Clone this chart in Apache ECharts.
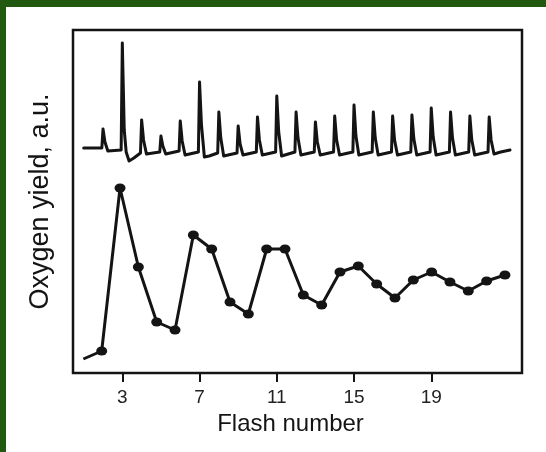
<!DOCTYPE html>
<html>
<head>
<meta charset="utf-8">
<script src="https://cdn.jsdelivr.net/npm/echarts@6/dist/echarts.min.js"></script>
<style>
  html, body { margin: 0; padding: 0; width: 546px; height: 452px; background: #20590f; overflow: hidden; }
  #main { position: absolute; left: 6px; top: 7px; width: 540px; height: 445px; background: #fff; }
</style>
</head>
<body>
<div id="main"></div>
<script>
// flash-number tick labels
const tickFlash = [3, 7, 11, 15, 19];

// steady-state oxygen yield per flash (lower curve, dots)
const dotFlash = [1, 2, 3, 4, 5, 6, 7, 8, 9, 10, 11, 12, 13, 14, 15, 16, 17, 18, 19, 20, 21, 22, 23, 24];
const dotYield = [14, 22, 185, 106, 51, 43, 138, 124, 71, 59, 124, 124, 78, 68, 101, 107, 89, 75, 93, 101, 91, 82, 92, 98];

// raw polarograph trace (upper curve), read point by point
const traceFlash = [
  1.0, 1.5, 1.94,
  2.0, 2.1, 2.25, 2.94,
  3.0, 3.1, 3.2, 3.35, 3.6, 3.94,
  4.0, 4.1, 4.25, 4.94,
  5.0, 5.1, 5.25, 5.94,
  6.0, 6.1, 6.25, 6.94,
  7.0, 7.1, 7.25, 7.5, 7.94,
  8.0, 8.1, 8.25, 8.94,
  9.0, 9.1, 9.25, 9.94,
  10.0, 10.1, 10.25, 10.94,
  11.0, 11.1, 11.25, 11.94,
  12.0, 12.1, 12.25, 12.94,
  13.0, 13.1, 13.25, 13.94,
  14.0, 14.1, 14.25, 14.94,
  15.0, 15.1, 15.25, 15.94,
  16.0, 16.1, 16.25, 16.94,
  17.0, 17.1, 17.25, 17.94,
  18.0, 18.1, 18.25, 18.94,
  19.0, 19.1, 19.25, 19.94,
  20.0, 20.1, 20.25, 20.94,
  21.0, 21.1, 21.25, 21.94,
  22.0, 22.1, 22.25, 22.6, 23.08
];
const traceSignal = [
  225, 225, 225,
  244, 231, 222, 223,
  330, 243, 221, 212, 215, 220,
  253, 233, 219, 221,
  237, 227, 219, 222,
  252, 232, 218, 221,
  291, 248, 216, 217, 220,
  261, 235, 217, 220,
  247, 229, 218, 221,
  256, 233, 218, 221,
  277, 241, 217, 221,
  261, 235, 218, 221,
  251, 231, 218, 221,
  257, 233, 218, 221,
  268, 237, 218, 221,
  261, 235, 218, 221,
  257, 233, 218, 221,
  258, 234, 218, 221,
  265, 236, 218, 221,
  261, 235, 218, 221,
  257, 233, 218, 221,
  256, 233, 219, 221, 223
];

const font = '"Liberation Sans", Arial, sans-serif';
const ink = '#141414';

let chart = echarts.init(document.getElementById('main'));

let dotData = dotFlash.map((f, i) => {
  let item = { value: [f, dotYield[i]] };
  if (i === 0) item.symbol = 'none';
  return item;
});
let traceData = traceFlash.map((f, i) => [f, traceSignal[i]]);

chart.setOption({
  animation: false,
  grid: {
    left: 67, top: 23, width: 449, height: 343,
    show: true,
    borderColor: ink,
    borderWidth: 2.5,
    backgroundColor: 'transparent'
  },
  xAxis: [
    {
      type: 'value',
      min: 0.446,
      max: 23.70,
      name: 'Flash number',
      nameLocation: 'middle',
      nameGap: 36,
      nameTextStyle: { fontFamily: font, fontSize: 24, color: ink, padding: [0, 14, 0, 0] },
      axisLine: { show: false },
      axisTick: { show: true, length: 9, customValues: tickFlash, lineStyle: { color: ink, width: 2 } },
      axisLabel: { customValues: tickFlash, margin: 15, fontFamily: font, fontSize: 19, color: '#222' },
      splitLine: { show: false }
    },
    {
      // data axis for the dotted curve (its spacing differs a bit in the original)
      type: 'value',
      min: 0.434,
      max: 24.93,
      show: false
    }
  ],
  yAxis: {
    type: 'value',
    min: 0,
    max: 343,
    name: 'Oxygen yield, a.u.',
    nameLocation: 'middle',
    nameGap: 19,
    nameTextStyle: { fontFamily: font, fontSize: 27, color: ink },
    axisLine: { show: false },
    axisTick: { show: false },
    axisLabel: { show: false },
    splitLine: { show: false }
  },
  series: [
    {
      name: 'trace',
      type: 'line',
      xAxisIndex: 0,
      data: traceData,
      showSymbol: false,
      symbol: 'none',
      lineStyle: { color: ink, width: 3, join: 'round', cap: 'round' }
    },
    {
      name: 'yield',
      type: 'line',
      xAxisIndex: 1,
      data: dotData,
      symbol: 'circle',
      symbolSize: [11, 9],
      itemStyle: { color: ink },
      lineStyle: { color: ink, width: 3 }
    }
  ]
});
</script>
</body>
</html>
